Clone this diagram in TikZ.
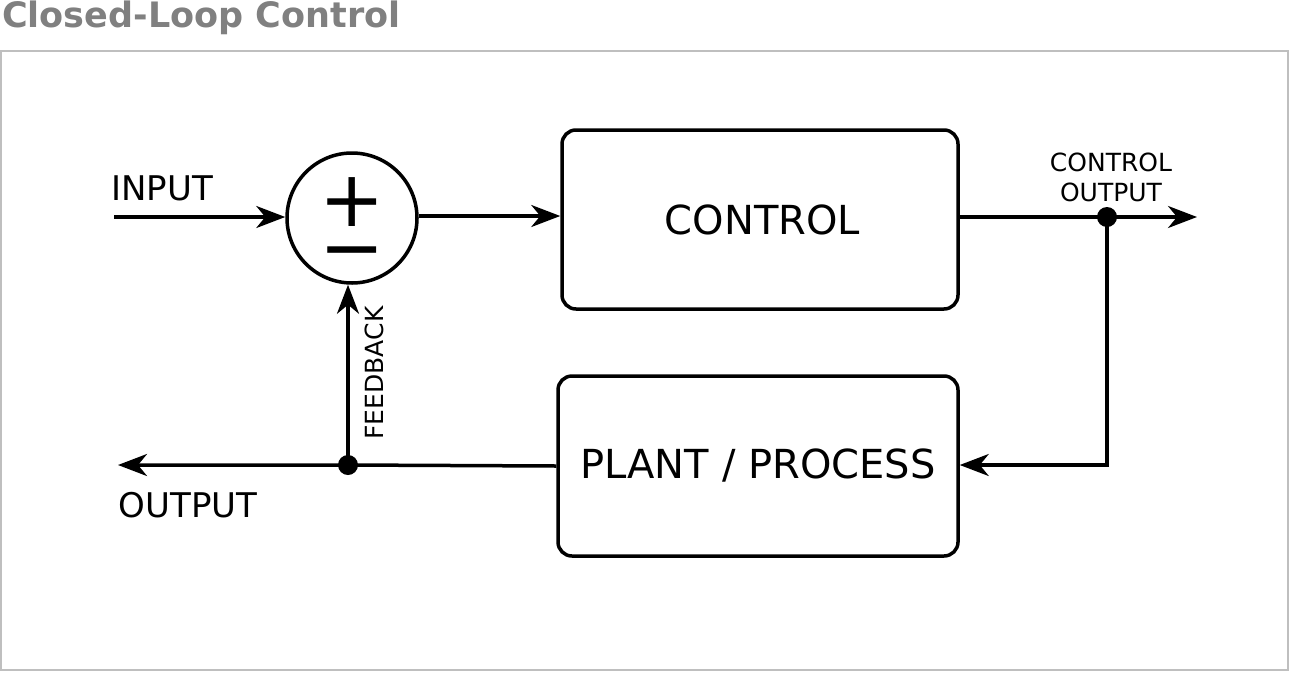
\documentclass[tikz,border=0pt]{standalone}
\usepackage{fontspec}
\setmainfont{DejaVu Sans}
\usetikzlibrary{arrows.meta}
\tikzset{
  blk/.style={draw, line width=3.5pt, rounded corners=14pt, inner sep=0pt},
  wire/.style={line width=3.5pt},
  arr/.style={wire, -{Stealth[length=29pt,width=22pt,inset=9pt]}},
  jdot/.style={circle, fill=black, inner sep=0pt, minimum size=20pt},
  big/.style={font=\fontsize{40}{48}\selectfont},
  mid/.style={font=\fontsize{34}{40}\selectfont},
  small/.style={font=\fontsize{25}{30}\selectfont, align=center},
  sign/.style={font=\fontsize{78}{48.5}\selectfont, inner sep=0pt, align=center, anchor=base},
}
\begin{document}
\begin{tikzpicture}[x=1pt,y=-1pt]
\useasboundingbox (0,0) rectangle (1289,672);
\node[anchor=base west, font=\fontsize{35}{40}\selectfont\bfseries, text=black!50, inner sep=0pt] (title) at (2,27) {Closed-Loop Control};
\draw[draw=black!25, line width=2pt] (1,51) rectangle (1288,670);
\node[draw, circle, line width=3.5pt, minimum size=130pt, inner sep=0pt] (sum) at (352,218) {};
\node[sign] (pm) at (352.5,274.5) {+\\−};
\node[blk, minimum width=396pt, minimum height=179pt, big] (ctrl) at (760,219.5) {\hspace*{5pt}CONTROL};
\node[blk, minimum width=400pt, minimum height=180pt, big] (plant) at (758,466) {PLANT / PROCESS};
\coordinate (in) at (114,217);
\coordinate (cout) at (1197,217);
\coordinate (out) at (118,465);
\node[jdot] (cdot) at (1107,217) {};
\node[jdot] (fdot) at (348,465) {};
\node[mid] (inlbl) at (162,188) {INPUT};
\node[mid] (outlbl) at (188,505) {OUTPUT};
\node[small] (colbl) at (1111,177) {CONTROL\\[0pt]OUTPUT};
\node[small, rotate=90] (fblbl) at (374,373) {FEEDBACK};
\draw[arr] (in) -- (in -| sum.west);
\draw[arr] (sum.east |- 0,216) -- (ctrl.west |- 0,216);
\draw[arr] (ctrl.east |- cout) -- (cout);
\draw[arr] (cdot.center) |- (plant.east |- 0,465);
\draw[arr] (plant.west |- 0,466) -- (fdot.center) -- (out);
\draw[arr] (fdot.center) -- (fdot |- sum.south);
\end{tikzpicture}
\end{document}
